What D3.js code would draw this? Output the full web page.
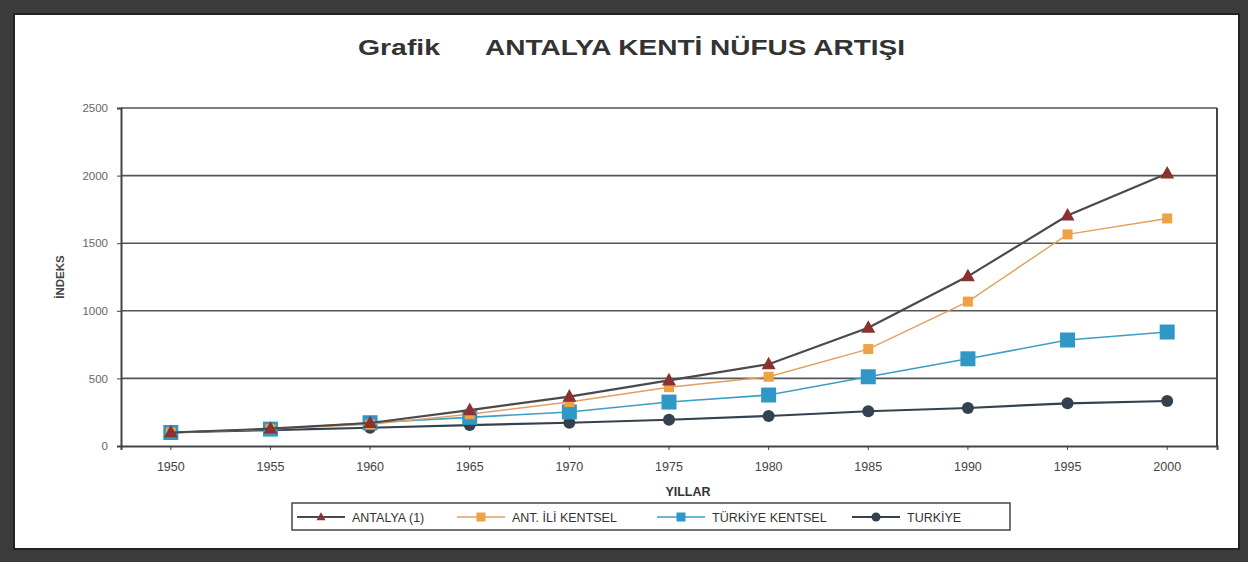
<!DOCTYPE html>
<html><head><meta charset="utf-8">
<script src="https://cdn.jsdelivr.net/npm/d3@7"></script>
<style>html,body{margin:0;padding:0;background:#3b3b3b;}svg{display:block;}</style>
</head><body>
<svg id="c" width="1248" height="562"></svg>
<script>
const years = ["1950","1955","1960","1965","1970","1975","1980","1985","1990","1995","2000"];
const antalya  = [100, 128, 170, 265, 365, 485, 605, 875, 1255, 1705, 2015];
const antIli   = [100, 125, 160, 235, 325, 435, 512, 717, 1068, 1565, 1683];
const turkKent = [100, 125, 172, 212, 252, 325, 377, 512, 645, 784, 843];
const turkiye  = [100, 118, 135, 155, 172, 194, 222, 257, 281, 316, 333];
const yTicks = [0, 500, 1000, 1500, 2000, 2500];
const seriesNames = ["ANTALYA (1)", "ANT. İLİ KENTSEL", "TÜRKİYE KENTSEL", "TURKİYE"];

const svg = d3.select("#c");
const ff = "'Liberation Sans', Arial, sans-serif";

// scanned frame
svg.append("rect").attr("x",0).attr("y",0).attr("width",1248).attr("height",562).attr("fill","#3b3b3b");
svg.append("rect").attr("x",14).attr("y",14).attr("width",1225).attr("height",535)
  .attr("fill","#fff").attr("stroke","#222").attr("stroke-width",2);

const L = 121, R = 1217, T = 108, B = 446;
const x = d3.scaleBand().domain(years).range([L, R]);
const y = d3.scaleLinear().domain([0, 2500]).range([B, T]);

// gridlines
svg.append("g").selectAll("line").data(yTicks.filter(d=>d>0)).join("line")
  .attr("x1", L).attr("x2", R).attr("y1", d=>y(d)).attr("y2", d=>y(d))
  .attr("stroke","#555").attr("stroke-width",1.6);

// axes
const ya = svg.append("g").attr("transform",`translate(${L},0)`)
  .call(d3.axisLeft(y).tickValues(yTicks).tickFormat(d3.format("d")).tickSize(4).tickPadding(9));
ya.select(".domain").attr("stroke","#444").attr("stroke-width",2);
ya.selectAll("line").attr("stroke","#444");
ya.selectAll("text").attr("font-family",ff).attr("font-size",11.5).attr("fill","#666");

const xa = svg.append("g").attr("transform",`translate(0,${B})`)
  .call(d3.axisBottom(x).tickSize(4).tickPadding(12));
xa.select(".domain").attr("stroke","#444").attr("stroke-width",2);
xa.selectAll("line").attr("stroke","#444");
xa.selectAll("text").attr("font-family",ff).attr("font-size",12.5).attr("fill","#444");

// right frame
svg.append("line").attr("x1",R).attr("x2",R).attr("y1",T).attr("y2",B)
  .attr("stroke","#444").attr("stroke-width",2);

const series = [
  {name: seriesNames[3], vals: turkiye,  line:"#34424f", fill:"#34424f", shape:"circle", size:12, w:2.2},
  {name: seriesNames[2], vals: turkKent, line:"#3d9ec4", fill:"#2f98c6", shape:"square", size:15, w:1.6},
  {name: seriesNames[1], vals: antIli,   line:"#e0a05c", fill:"#eda246", shape:"square", size:10, w:1.4},
  {name: seriesNames[0], vals: antalya,  line:"#4a4a4a", fill:"#8a3232", shape:"triangle", size:14, w:2.2}
];
const line = d3.line().x((d,i)=>x(years[i])+x.bandwidth()/2).y(d=>y(d));

function marker(g, s, cx, cy){
  if (s.shape==="circle"){
    g.append("circle").attr("cx",cx).attr("cy",cy).attr("r",s.size/2).attr("fill",s.fill);
  } else if (s.shape==="square"){
    g.append("rect").attr("x",cx-s.size/2).attr("y",cy-s.size/2).attr("width",s.size).attr("height",s.size).attr("fill",s.fill);
  } else {
    const h = s.size*0.9;
    g.append("path").attr("d",`M${cx},${cy-h*0.6}L${cx+s.size/2},${cy+h*0.4}L${cx-s.size/2},${cy+h*0.4}Z`).attr("fill",s.fill);
  }
}

series.forEach(s=>{
  svg.append("path").datum(s.vals).attr("d",line).attr("fill","none")
    .attr("stroke",s.line).attr("stroke-width",s.w);
  const g = svg.append("g");
  s.vals.forEach((v,i)=>marker(g, s, x(years[i])+x.bandwidth()/2, y(v)));
});

// title
svg.append("text").attr("x",358).attr("y",55).attr("font-family",ff).attr("font-weight","bold")
  .attr("font-size",22).attr("fill","#333").attr("textLength",82).attr("lengthAdjust","spacingAndGlyphs").text("Grafik");
svg.append("text").attr("x",485).attr("y",55).attr("font-family",ff).attr("font-weight","bold")
  .attr("font-size",22).attr("fill","#333").attr("textLength",420).attr("lengthAdjust","spacingAndGlyphs").text("ANTALYA KENTİ NÜFUS ARTIŞI");

// axis titles
svg.append("text").attr("transform","translate(64,277) rotate(-90)").attr("text-anchor","middle")
  .attr("font-family",ff).attr("font-weight","bold").attr("font-size",11.5).attr("fill","#444").text("İNDEKS");
svg.append("text").attr("x",688).attr("y",496).attr("text-anchor","middle")
  .attr("font-family",ff).attr("font-weight","bold").attr("font-size",12.5).attr("fill","#333").text("YILLAR");

// legend
svg.append("rect").attr("x",292).attr("y",503).attr("width",718).attr("height",27)
  .attr("fill","#fff").attr("stroke","#444").attr("stroke-width",1.5);
const legX = [297, 457, 657, 852];
const legOrder = [series[3], series[2], series[1], series[0]];
legOrder.forEach((s,i)=>{
  const g = svg.append("g");
  const x0 = legX[i], cy = 517;
  g.append("line").attr("x1",x0).attr("x2",x0+48).attr("y1",cy).attr("y2",cy)
    .attr("stroke",s.line).attr("stroke-width",s.w);
  const ms = Object.assign({}, s, {size: Math.min(s.size, 9)});
  marker(g, ms, x0+24, cy);
  g.append("text").attr("x",x0+55).attr("y",cy+4.5).attr("font-family",ff).attr("font-size",12.5)
    .attr("fill","#333").text(s.name);
});
</script>
</body></html>
